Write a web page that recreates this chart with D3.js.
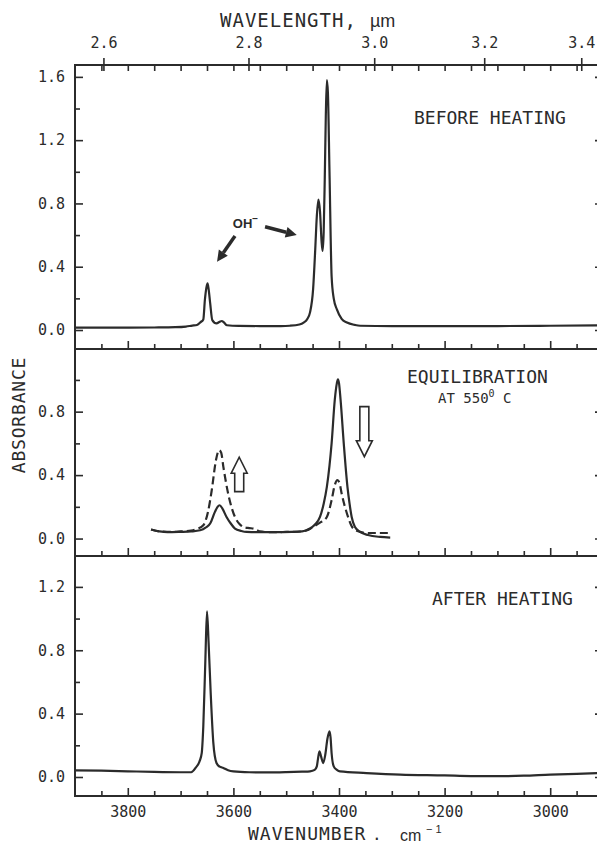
<!DOCTYPE html>
<html>
<head>
<meta charset="utf-8">
<script src="https://cdn.jsdelivr.net/npm/d3@7"></script>
<style>
  body { margin: 0; background: #fff; }
  svg text { font-family: "DejaVu Sans Mono", monospace; fill: #2b2b2b; }
</style>
</head>
<body>
<svg id="chart" width="597" height="843"></svg>
<script>
// spectra as [wavenumber cm-1, absorbance]
const beforeHeating = [
  [3900,0.015],[3850,0.015],[3800,0.015],[3750,0.016],[3710,0.018],[3690,0.022],[3678,0.028],
  [3669,0.032],[3662,0.05],[3657,0.067],[3654,0.19],[3651,0.27],[3649,0.295],[3647,0.26],
  [3644,0.17],[3640,0.063],[3632,0.042],[3626,0.052],[3622,0.057],[3618,0.048],[3612,0.03],
  [3590,0.026],[3550,0.025],[3510,0.025],[3493,0.027],[3475,0.035],[3467,0.047],[3460,0.07],
  [3455,0.11],[3449,0.26],[3445,0.51],[3442,0.72],[3439,0.825],[3436,0.75],[3433,0.56],
  [3431,0.5],[3429,0.62],[3427,0.95],[3425,1.35],[3423,1.58],[3421,1.5],[3418,1.0],
  [3414,0.34],[3410,0.2],[3404,0.13],[3395,0.07],[3385,0.047],[3370,0.032],[3360,0.027],
  [3300,0.025],[3200,0.025],[3100,0.025],[3000,0.027],[2900,0.03]
];
const equilibrationSolid = [
  [3756,0.057],[3740,0.045],[3725,0.04],[3701,0.042],[3680,0.045],[3663,0.052],[3652,0.07],
  [3644,0.095],[3635,0.168],[3630,0.2],[3626,0.21],[3621,0.19],[3613,0.136],[3605,0.095],
  [3597,0.063],[3585,0.048],[3575,0.042],[3550,0.04],[3520,0.04],[3490,0.042],[3470,0.045],
  [3462,0.052],[3455,0.063],[3445,0.09],[3436,0.136],[3429,0.22],[3423,0.326],[3418,0.46],
  [3414,0.6],[3408,0.874],[3404,0.98],[3402,1.004],[3400,0.98],[3397,0.874],[3391,0.6],
  [3384,0.326],[3380,0.22],[3376,0.136],[3370,0.075],[3360,0.042],[3345,0.022],[3322,0.01],
  [3303,0.006]
];
const equilibrationDashed = [
  [3756,0.057],[3740,0.045],[3720,0.042],[3700,0.045],[3680,0.05],[3668,0.062],[3657,0.084],
  [3648,0.17],[3641,0.305],[3633,0.495],[3627,0.558],[3623,0.54],[3619,0.452],[3610,0.284],
  [3597,0.136],[3588,0.09],[3581,0.073],[3570,0.066],[3562,0.063],[3550,0.045],[3530,0.04],
  [3500,0.042],[3470,0.045],[3458,0.055],[3449,0.073],[3436,0.1],[3423,0.136],[3414,0.242],
  [3408,0.337],[3403,0.368],[3399,0.35],[3395,0.284],[3385,0.158],[3373,0.063],[3360,0.042],
  [3348,0.035],[3325,0.035],[3303,0.035]
];
const afterHeating = [
  [3900,0.042],[3850,0.04],[3800,0.036],[3750,0.032],[3700,0.03],[3680,0.03],[3671,0.06],
  [3664,0.1],[3660,0.15],[3657,0.32],[3653,0.75],[3650,1.046],[3647,0.85],[3643,0.53],
  [3638,0.215],[3632,0.088],[3626,0.065],[3619,0.057],[3610,0.042],[3600,0.035],[3570,0.03],
  [3537,0.029],[3500,0.031],[3470,0.034],[3455,0.036],[3446,0.045],[3442,0.067],[3440,0.11],
  [3437,0.162],[3434,0.13],[3430,0.088],[3426,0.14],[3422,0.24],[3418,0.288],[3416,0.25],
  [3414,0.15],[3410,0.067],[3404,0.045],[3398,0.035],[3348,0.025],[3284,0.015],[3200,0.01],
  [3150,0.006],[3100,0.005],[3050,0.008],[3000,0.015],[2950,0.02],[2900,0.025]
];

const wavenumberTicks = [3800, 3600, 3400, 3200, 3000];
const wavelengthTicks = [2.6, 2.8, 3.0, 3.2, 3.4];
const topYTicks = [0, 0.4, 0.8, 1.2, 1.6];
const topYMinor = [0.2, 0.6, 1.0, 1.4];
const midYTicks = [0, 0.4, 0.8];
const midYMinor = [0.2, 0.6, 1.0];
const botYTicks = [0, 0.4, 0.8, 1.2];
const botYMinor = [0.2, 0.6, 1.0];

const ink = "#2b2b2b";
const svg = d3.select("#chart");

const left = 75, right = 603;
const x = d3.scaleLinear().domain([3900, 2900]).range([left, right]);
const minorWn = d3.range(3850, 2900, -50);

const panels = [
  { top: 65, bottom: 349, domain: [-0.12, 1.675], major: topYTicks, minor: topYMinor,
    series: [{ data: beforeHeating }] },
  { top: 349, bottom: 556, domain: [-0.11, 1.195], major: midYTicks, minor: midYMinor,
    series: [{ data: equilibrationSolid }, { data: equilibrationDashed, dash: "8,4" }] },
  { top: 556, bottom: 796, domain: [-0.12, 1.395], major: botYTicks, minor: botYMinor,
    series: [{ data: afterHeating }] }
];

function styleAxis(g, fontSize) {
  g.select(".domain").remove();
  g.attr("font-family", null).attr("font-size", null);
  g.selectAll("line").attr("stroke", ink).attr("stroke-width", 1.6);
  g.selectAll("text").attr("fill", ink).style("font-size", fontSize + "px");
}

panels.forEach(function(p, i) {
  p.y = d3.scaleLinear().domain(p.domain).range([p.bottom, p.top]);

  svg.append("clipPath").attr("id", "clip" + i)
    .append("rect").attr("x", left).attr("y", p.top)
    .attr("width", right - left).attr("height", p.bottom - p.top);

  // y axes, left and right, ticks pointing inward
  let yl = svg.append("g").attr("transform", "translate(" + left + ",0)")
    .call(d3.axisLeft(p.y).tickValues(p.major).tickSize(-8).tickSizeOuter(0)
      .tickPadding(10).tickFormat(d3.format(".1f")));
  styleAxis(yl, 15);
  let ylm = svg.append("g").attr("transform", "translate(" + left + ",0)")
    .call(d3.axisLeft(p.y).tickValues(p.minor).tickSize(-5).tickFormat(""));
  styleAxis(ylm, 15);
  let yr = svg.append("g").attr("transform", "translate(" + right + ",0)")
    .call(d3.axisRight(p.y).tickValues(p.major).tickSize(-8).tickFormat(""));
  styleAxis(yr, 15);
  let yrm = svg.append("g").attr("transform", "translate(" + right + ",0)")
    .call(d3.axisRight(p.y).tickValues(p.minor).tickSize(-5).tickFormat(""));
  styleAxis(yrm, 15);

  // bottom edge of each panel
  let xb = svg.append("g").attr("transform", "translate(0," + p.bottom + ")")
    .call(d3.axisBottom(x).tickValues(wavenumberTicks).tickSize(-8).tickPadding(10)
      .tickFormat(i === 2 ? d3.format("d") : ""));
  styleAxis(xb, 15);
  let xbm = svg.append("g").attr("transform", "translate(0," + p.bottom + ")")
    .call(d3.axisBottom(x).tickValues(minorWn.filter(d => d % 200 !== 0)).tickSize(-5).tickFormat(""));
  styleAxis(xbm, 15);

  let line = d3.line()
    .x(d => x(d[0]))
    .y(d => p.y(d[1]))
    .curve(d3.curveMonotoneX);

  p.series.forEach(function(s) {
    svg.append("path")
      .datum(s.data)
      .attr("clip-path", "url(#clip" + i + ")")
      .attr("fill", "none")
      .attr("stroke", ink)
      .attr("stroke-width", 2.2)
      .attr("stroke-linejoin", "round")
      .attr("stroke-dasharray", s.dash || null)
      .attr("d", line);
  });
});

// top wavelength axis (um = 10000 / cm-1)
let xtMinor = svg.append("g").attr("transform", "translate(0," + panels[0].top + ")")
  .call(d3.axisBottom(x).tickValues(minorWn).tickSize(-6).tickFormat(""));
styleAxis(xtMinor, 15);
xtMinor.selectAll("line").attr("y2", 6);
let xtIn = svg.append("g").attr("transform", "translate(0," + panels[0].top + ")")
  .call(d3.axisBottom(x).tickValues(wavelengthTicks.map(l => 10000 / l)).tickSize(6).tickFormat(""));
styleAxis(xtIn, 15);
let xt = svg.append("g").attr("transform", "translate(0," + panels[0].top + ")")
  .call(d3.axisTop(x).tickValues(wavelengthTicks.map(l => 10000 / l)).tickSize(7).tickPadding(10)
    .tickFormat(d => d3.format(".1f")(10000 / d)));
styleAxis(xt, 15);

// frame
svg.append("rect")
  .attr("x", left).attr("y", panels[0].top)
  .attr("width", right - left).attr("height", panels[2].bottom - panels[0].top)
  .attr("fill", "none").attr("stroke", ink).attr("stroke-width", 2);
panels.slice(0, 2).forEach(function(p) {
  svg.append("line")
    .attr("x1", left).attr("x2", right)
    .attr("y1", p.bottom).attr("y2", p.bottom)
    .attr("stroke", ink).attr("stroke-width", 2);
});

// titles
svg.append("text").attr("x", 220).attr("y", 27)
  .style("font-size", "19px").style("letter-spacing", "1px").text("WAVELENGTH,");
svg.append("text").attr("x", 370).attr("y", 27)
  .style("font-family", "'Liberation Sans', sans-serif").style("font-size", "18px").text("µm");

svg.append("text")
  .attr("transform", "translate(25,415) rotate(-90)")
  .attr("text-anchor", "middle")
  .style("font-size", "18px").style("letter-spacing", "0.8px")
  .text("ABSORBANCE");

svg.append("text").attr("x", 248).attr("y", 840)
  .style("font-size", "18px").style("letter-spacing", "1px").text("WAVENUMBER");
svg.append("text").attr("x", 372).attr("y", 840)
  .style("font-size", "16px").text(".");
svg.append("text").attr("x", 400).attr("y", 841)
  .style("font-family", "'Liberation Sans', sans-serif").style("font-size", "16px").text("cm");
svg.append("text").attr("x", 426).attr("y", 833)
  .style("font-family", "'Liberation Sans', sans-serif").style("font-size", "11px")
  .style("letter-spacing", "3px").text("−1");

// panel labels
svg.append("text").attr("x", 414).attr("y", 124).style("font-size", "18px").text("BEFORE HEATING");
svg.append("text").attr("x", 407).attr("y", 383).style("font-size", "18px").text("EQUILIBRATION");
let at = svg.append("text").attr("x", 438).attr("y", 403).style("font-size", "14px");
at.append("tspan").text("AT 550");
at.append("tspan").attr("dy", -6).style("font-size", "10px").text("0");
at.append("tspan").attr("dy", 6).text(" C");
svg.append("text").attr("x", 432).attr("y", 605).style("font-size", "18px").text("AFTER HEATING");

// OH- annotation, top panel
const yTop = panels[0].y;
let oh = svg.append("text").attr("x", x(3601)).attr("y", yTop(0.645))
  .style("font-family", "'Liberation Sans', sans-serif").style("font-weight", "bold")
  .style("font-size", "13px");
oh.append("tspan").text("OH");
oh.append("tspan").attr("dy", -6).style("font-size", "10px").text("−");

function solidArrow(x1, y1, x2, y2) {
  let a = Math.atan2(y2 - y1, x2 - x1);
  let len = 11, half = 5.5;
  let bx = x2 - len * Math.cos(a), by = y2 - len * Math.sin(a);
  svg.append("line").attr("x1", x1).attr("y1", y1).attr("x2", bx).attr("y2", by)
    .attr("stroke", ink).attr("stroke-width", 3.5);
  let pts = [
    [x2, y2],
    [bx + half * Math.sin(a), by - half * Math.cos(a)],
    [bx - half * Math.sin(a), by + half * Math.cos(a)]
  ];
  svg.append("path").attr("d", "M" + pts.join("L") + "Z").attr("fill", ink);
}
solidArrow(x(3597), yTop(0.594), x(3631), yTop(0.432));
solidArrow(x(3540), yTop(0.653), x(3480), yTop(0.60));

// hollow arrows, middle panel
const yMid = panels[1].y;
function hollowArrow(cx, yTail, yTip) {
  let dir = yTip < yTail ? -1 : 1;
  let head = 16, sw = 4.5, hw = 8;
  let yb = yTip - dir * head;
  let d = [
    [cx - sw, yTail], [cx - sw, yb], [cx - hw, yb], [cx, yTip],
    [cx + hw, yb], [cx + sw, yb], [cx + sw, yTail]
  ];
  svg.append("path").attr("d", "M" + d.join("L") + "Z")
    .attr("fill", "#fff").attr("stroke", ink).attr("stroke-width", 1.6)
    .attr("stroke-linejoin", "miter");
}
hollowArrow(x(3589), yMid(0.296), yMid(0.513));
hollowArrow(x(3352), yMid(0.832), yMid(0.516));
</script>
</body>
</html>
